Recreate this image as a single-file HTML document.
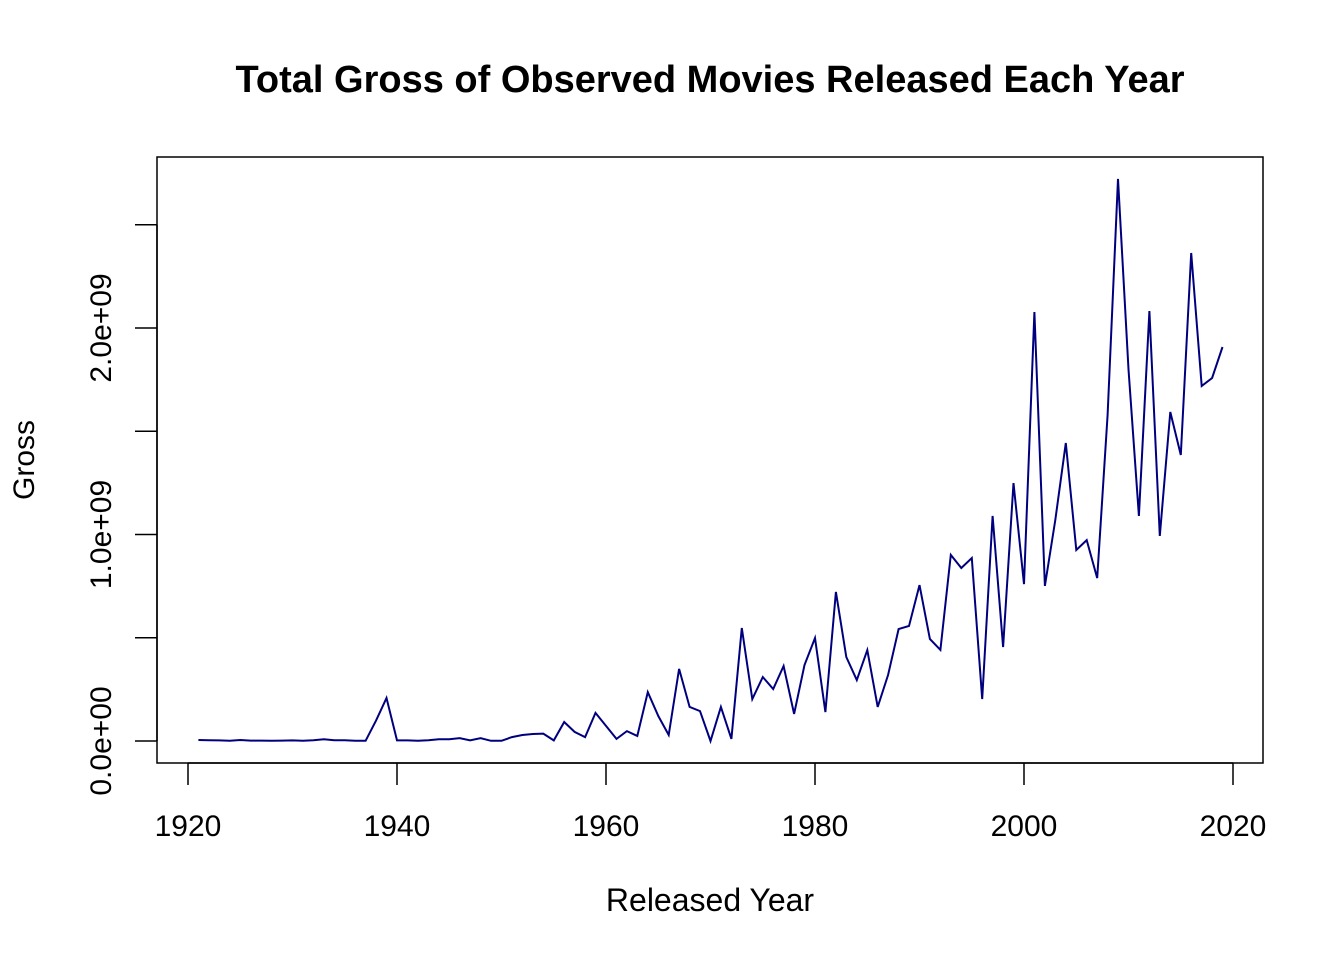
<!DOCTYPE html>
<html><head><meta charset="utf-8"><style>
body{margin:0;background:#fff}
text{font-family:"Liberation Sans",Arial,sans-serif;fill:#000}
</style></head><body>
<svg id="chart" width="1344" height="960" xmlns="http://www.w3.org/2000/svg">
<text x="710" y="92" font-size="38" font-weight="bold" text-anchor="middle">Total Gross of Observed Movies Released Each Year</text>
<rect x="157" y="157" width="1106" height="606" fill="none" stroke="#000" stroke-width="1.5"/>
<g id="xaxis"></g>
<g id="yaxis"></g>
<text x="710" y="911" font-size="32" text-anchor="middle">Released Year</text>
<text transform="translate(34,460) rotate(-90)" font-size="30" text-anchor="middle">Gross</text>
<path id="line" fill="none" stroke="#00007f" stroke-width="2"/>
</svg>
<script>
const startYear = 1921;
const grossBillions = [0.005,0.004,0.003,0.001,0.005,0.002,0.002,0.001,0.002,0.003,0.001,0.004,0.008,0.004,0.004,0.001,0.001,0.10,0.208,0.003,0.003,0.001,0.004,0.008,0.008,0.014,0.003,0.014,0.001,0.001,0.019,0.029,0.034,0.036,0.003,0.092,0.044,0.019,0.136,0.073,0.010,0.048,0.024,0.237,0.121,0.029,0.349,0.165,0.145,0.0,0.165,0.010,0.547,0.203,0.310,0.252,0.363,0.131,0.368,0.499,0.140,0.722,0.407,0.295,0.440,0.165,0.320,0.542,0.557,0.755,0.494,0.441,0.901,0.838,0.886,0.203,1.090,0.455,1.249,0.760,2.077,0.751,1.070,1.443,0.925,0.973,0.789,1.579,2.722,1.80,1.090,2.082,0.993,1.593,1.385,2.363,1.719,1.758,1.908];
const xTicks = [1920,1940,1960,1980,2000,2020];
const yTicks = [0,0.5,1,1.5,2,2.5];
const yTickLabels = {0:"0.0e+00",1:"1.0e+09",2:"2.0e+09"};
const sx = v => 188 + (v-1920)*10.45;
const sy = v => 741 - v*206.5;
const NS="http://www.w3.org/2000/svg";
const xa=document.getElementById('xaxis'), ya=document.getElementById('yaxis');
function mk(tag,attrs,parent){const e=document.createElementNS(NS,tag);for(const k in attrs)e.setAttribute(k,attrs[k]);parent.appendChild(e);return e;}
mk('line',{x1:sx(xTicks[0]),x2:sx(xTicks[xTicks.length-1]),y1:763,y2:763,stroke:'#000','stroke-width':1.5},xa);
xTicks.forEach(t=>{
  const l=mk('line',{x1:sx(t),x2:sx(t),y1:763,y2:785,stroke:'#000','stroke-width':1.5},xa);
  
  
  const tx=mk('text',{x:sx(t),y:836,'font-size':30,'text-anchor':'middle'},xa);
  tx.textContent=t;
  
  
});
mk('line',{x1:157,x2:157,y1:sy(yTicks[0]),y2:sy(yTicks[yTicks.length-1]),stroke:'#000','stroke-width':1.5},ya);
yTicks.forEach(t=>{
  const l=mk('line',{x1:135,x2:157,y1:sy(t),y2:sy(t),stroke:'#000','stroke-width':1.5},ya);
  
  
  if(yTickLabels[t]!==undefined){
    const tx=mk('text',{transform:`translate(111,${sy(t)}) rotate(-90)`,'font-size':30,'text-anchor':'middle'},ya);
    tx.textContent=yTickLabels[t];
    
    
  }
});
document.getElementById('line').setAttribute('d',grossBillions.map((v,i)=>(i?'L':'M')+sx(startYear+i).toFixed(1)+','+sy(v).toFixed(1)).join(''));
</script>
</body></html>
